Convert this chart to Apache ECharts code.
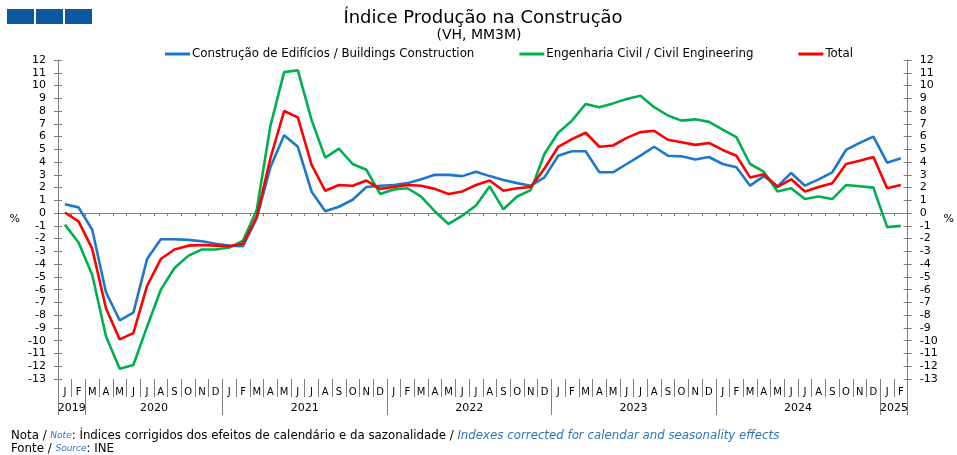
<!DOCTYPE html>
<html><head><meta charset="utf-8">
<script src="https://cdn.jsdelivr.net/npm/echarts@6/dist/echarts.min.js"></script>
<style>html,body{margin:0;padding:0;background:#fff}#c{width:957px;height:455px}</style>
</head><body><div id="c"></div>
<script>
// ---- data ----
const monthLabels = [
  'J','F','M','A','M','J','J','A','S','O','N','D',
  'J','F','M','A','M','J','J','A','S','O','N','D',
  'J','F','M','A','M','J','J','A','S','O','N','D',
  'J','F','M','A','M','J','J','A','S','O','N','D',
  'J','F','M','A','M','J','J','A','S','O','N','D',
  'J','F'
];
const yearLabels = ['2019','2020','2021','2022','2023','2024','2025'];
const yearSpans = [2,10,12,12,12,12,2];

const buildings = [
  0.7, 0.45, -1.3, -6.2, -8.4, -7.8, -3.6, -2.05, -2.05, -2.1, -2.2, -2.4,
  -2.55, -2.6, -0.4, 3.6, 6.1, 5.2, 1.7, 0.15, 0.5, 1.05, 2.05, 2.15,
  2.2, 2.35, 2.65, 3.0, 3.0, 2.9, 3.25, 2.9, 2.6, 2.35, 2.15, 2.8,
  4.5, 4.85, 4.85, 3.2, 3.2, 3.85, 4.5, 5.2, 4.5, 4.45, 4.2, 4.4,
  3.85, 3.6, 2.15, 2.9, 2.1, 3.15, 2.15, 2.65, 3.2, 4.95, 5.5, 6.0,
  3.95, 4.3
];
const civil = [
  -0.9, -2.3, -4.85, -9.65, -12.2, -11.9, -8.9, -6.0, -4.3, -3.35, -2.85, -2.85,
  -2.7, -2.15, 0.25, 6.85, 11.05, 11.2, 7.3, 4.35, 5.05, 3.85, 3.4, 1.5,
  1.85, 1.95, 1.3, 0.13, -0.85, -0.2, 0.6, 2.1, 0.3, 1.3, 1.8, 4.65,
  6.3, 7.25, 8.55, 8.3, 8.6, 8.95, 9.2, 8.3, 7.65, 7.25, 7.35, 7.15,
  6.55, 5.95, 3.85, 3.25, 1.7, 1.95, 1.1, 1.3, 1.1, 2.2, 2.1, 2.0,
  -1.1, -1.0
];
const total = [
  0.05, -0.65, -2.8, -7.45, -9.9, -9.4, -5.7, -3.6, -2.85, -2.55, -2.5, -2.55,
  -2.6, -2.4, -0.3, 4.3, 8.0, 7.5, 3.8, 1.75, 2.2, 2.15, 2.55, 1.9,
  2.05, 2.2, 2.15, 1.9, 1.5, 1.7, 2.2, 2.55, 1.75, 1.95, 2.05, 3.5,
  5.2, 5.8, 6.3, 5.2, 5.3, 5.9, 6.35, 6.45, 5.75, 5.55, 5.35, 5.5,
  4.95, 4.5, 2.8, 3.05, 2.05, 2.65, 1.7, 2.05, 2.35, 3.85, 4.1, 4.4,
  1.95, 2.2
];
const seriesNames = [
  'Construção de Edifícios / Buildings Construction',
  'Engenharia Civil / Civil Engineering',
  'Total'
];
const yMin = -13, yMax = 12, yInterval = 1;

// ---- year axis (half-month steps) ----
const yearCats = [];
const yearTickIdx = new Set([0]);
const yearLabelAt = {};
let acc = 0;
yearLabels.forEach((y, j) => {
  yearLabelAt[2 * acc + yearSpans[j]] = y;
  acc += yearSpans[j];
  yearTickIdx.add(2 * acc);
});
for (let k = 0; k <= 2 * acc; k++) yearCats.push(yearLabelAt[k] || '');

const FONT = 'DejaVu Sans';
const GRAY = '#7f7f7f';
const BLUE_TXT = '#2E75B6';

function yAx(pos, inside, labels) {
  return {
    type: 'value', position: pos, min: yMin, max: yMax, interval: yInterval,
    splitLine: { show: false },
    axisLine: { show: labels, lineStyle: { color: GRAY, width: 1 } },
    axisTick: { show: true, inside: inside, length: 4, lineStyle: { color: GRAY } },
    axisLabel: { show: labels, color: '#000', fontFamily: FONT, fontSize: 11, margin: 12 },
    name: labels ? '%' : '', nameLocation: 'middle', nameRotate: 0,
    nameGap: pos === 'left' ? 38 : 35,
    nameTextStyle: { color: '#000', fontFamily: FONT, fontSize: 11, padding: [4, 0, 0, 0] }
  };
}

const chart = echarts.init(document.getElementById('c'), null, { renderer: 'canvas' });
chart.setOption({
  backgroundColor: '#fff',
  animation: false,
  title: [
    { text: 'Índice Produção na Construção', left: 483, textAlign: 'center', top: 9, padding: 0,
      textStyle: { fontFamily: FONT, fontSize: 18, fontWeight: 'normal', color: '#000' } },
    { text: '(VH, MM3M)', left: 479, textAlign: 'center', top: 28, padding: 0,
      textStyle: { fontFamily: FONT, fontSize: 14, fontWeight: 'normal', color: '#000' } },
    { text: '{a|Nota / }{b|Note}{a|: Índices corrigidos dos efeitos de calendário e da sazonalidade / }{c|Indexes corrected for calendar and seasonality effects}',
      left: 11, top: 430, padding: 0,
      textStyle: { fontWeight: 'normal', rich: {
        a: { fontFamily: FONT, fontSize: 11.8, fontWeight: 'normal', color: '#000' },
        b: { fontFamily: FONT, fontSize: 9, fontStyle: 'italic', fontWeight: 'normal', color: BLUE_TXT },
        c: { fontFamily: FONT, fontSize: 11.8, fontStyle: 'italic', fontWeight: 'normal', color: BLUE_TXT }
      } } },
    { text: '{a|Fonte / }{b|Source}{a|: INE}',
      left: 11, top: 443, padding: 0,
      textStyle: { fontWeight: 'normal', rich: {
        a: { fontFamily: FONT, fontSize: 11.8, fontWeight: 'normal', color: '#000' },
        b: { fontFamily: FONT, fontSize: 9, fontStyle: 'italic', fontWeight: 'normal', color: BLUE_TXT }
      } } }
  ],
  graphic: [
    { type: 'rect', shape: { x: 7, y: 9, width: 27, height: 15 }, style: { fill: '#0B57A0' } },
    { type: 'rect', shape: { x: 36, y: 9, width: 27, height: 15 }, style: { fill: '#0B57A0' } },
    { type: 'rect', shape: { x: 65, y: 9, width: 27, height: 15 }, style: { fill: '#0B57A0' } }
  ],
  legend: {
    data: seriesNames, left: 165, top: 48, padding: 0, itemGap: 45, itemWidth: 25, itemHeight: 3,
    icon: 'rect',
    textStyle: { fontFamily: FONT, fontSize: 11.8, color: '#000', padding: [0, 0, 0, -3] }
  },
  grid: { left: 58, right: 42, top: 60, bottom: 76, containLabel: false },
  xAxis: [
    { type: 'category', data: monthLabels, boundaryGap: true, position: 'bottom',
      axisLine: { show: true, onZero: true, lineStyle: { color: GRAY, width: 1.2 } },
      axisTick: { show: true, length: 3, interval: 0, lineStyle: { color: GRAY } },
      axisLabel: { show: false }, splitLine: { show: false } },
    { type: 'category', data: monthLabels, boundaryGap: true, position: 'bottom',
      axisLine: { show: false, onZero: false },
      axisTick: { show: true, length: 18, interval: 0, lineStyle: { color: GRAY } },
      axisLabel: { show: true, interval: 0, margin: 8, color: '#000', fontFamily: FONT, fontSize: 10 },
      splitLine: { show: false } },
    { type: 'category', data: yearCats, boundaryGap: false, position: 'bottom',
      axisLine: { show: false, onZero: false },
      axisTick: { show: true, length: 36, interval: (i) => yearTickIdx.has(i), lineStyle: { color: GRAY } },
      axisLabel: { show: true, interval: 0, margin: 24, color: '#000', fontFamily: FONT, fontSize: 11 },
      splitLine: { show: false } }
  ],
  yAxis: [ yAx('left', false, true), yAx('left', true, false), yAx('right', false, true), yAx('right', true, false) ],
  series: [
    { name: seriesNames[0], type: 'line', data: buildings, symbol: 'none', color: '#1F77C9',
      lineStyle: { width: 2.6, color: '#1F77C9' }, xAxisIndex: 0, yAxisIndex: 0 },
    { name: seriesNames[1], type: 'line', data: civil, symbol: 'none', color: '#00B050',
      lineStyle: { width: 2.6, color: '#00B050' }, xAxisIndex: 0, yAxisIndex: 0 },
    { name: seriesNames[2], type: 'line', data: total, symbol: 'none', color: '#FF0000',
      lineStyle: { width: 2.6, color: '#FF0000' }, xAxisIndex: 0, yAxisIndex: 0 }
  ]
});
</script></body></html>
